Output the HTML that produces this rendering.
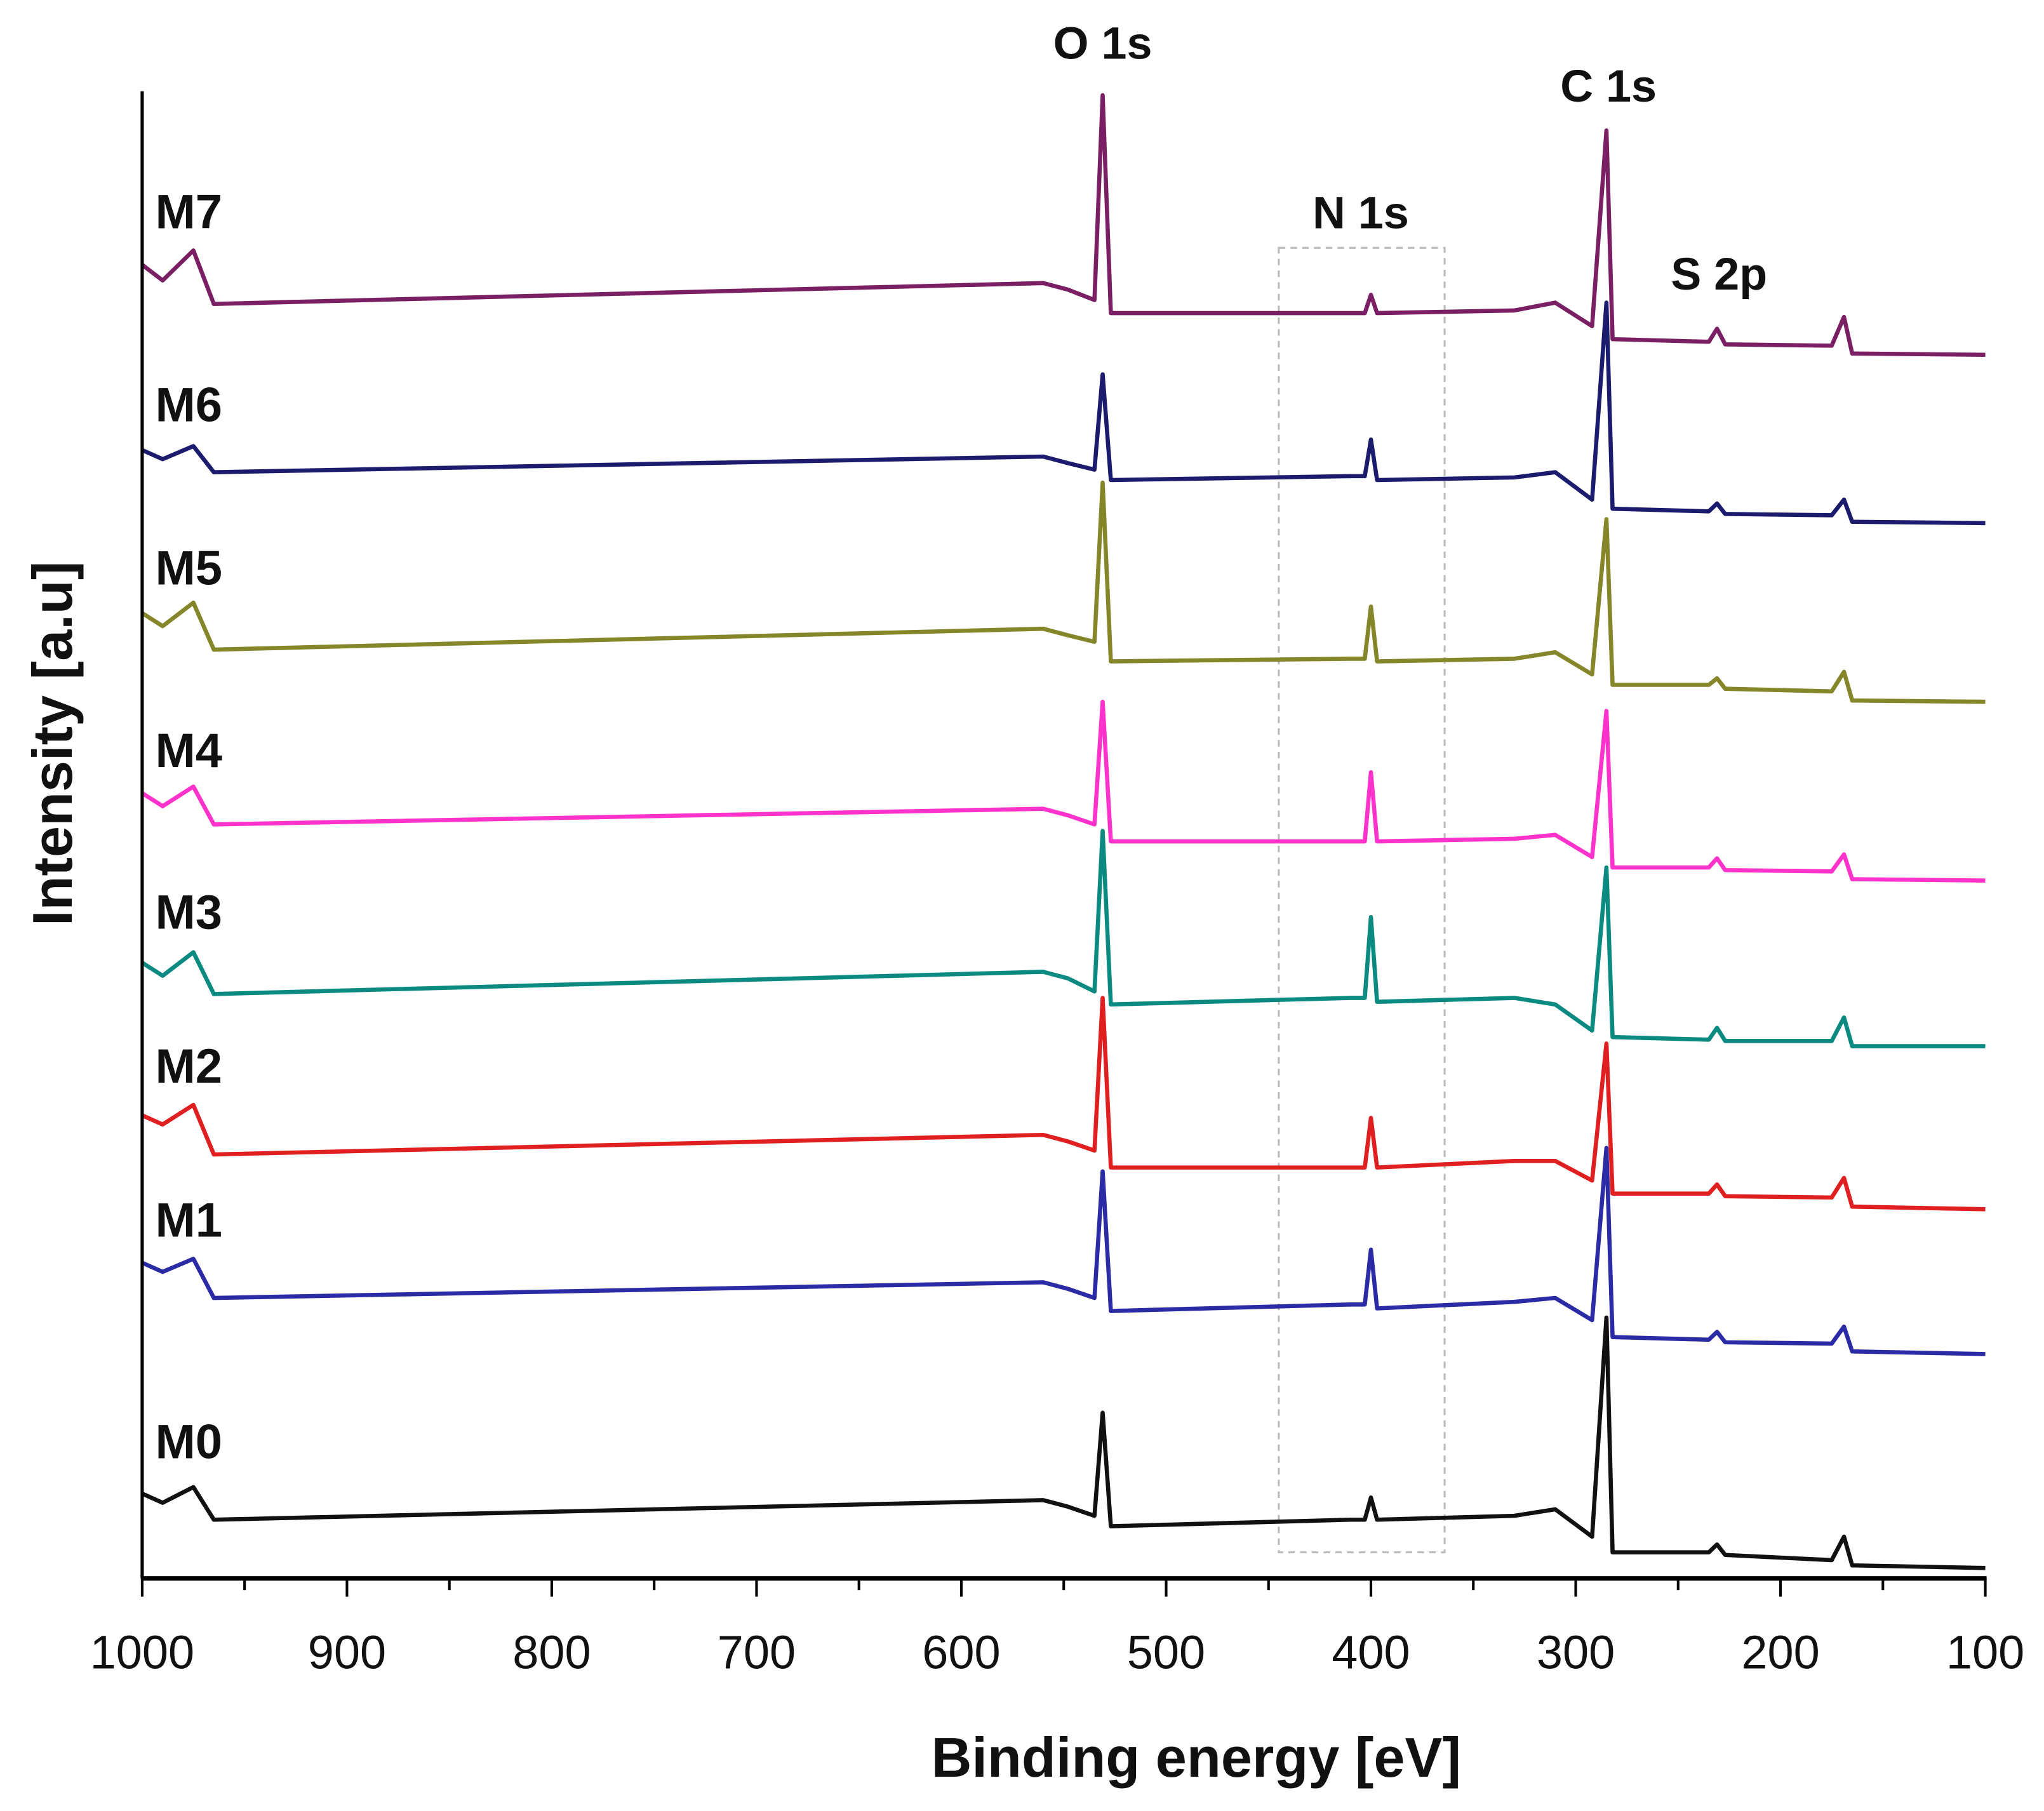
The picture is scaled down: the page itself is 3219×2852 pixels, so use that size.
<!DOCTYPE html>
<html><head><meta charset="utf-8"><style>
html,body{margin:0;padding:0;background:#fff;}
svg{display:block;}
text{font-family:"Liberation Sans",sans-serif;}
</style></head><body>
<svg id="chart" width="3219" height="2852" viewBox="0 0 1567 1388.3" preserveAspectRatio="none" xmlns="http://www.w3.org/2000/svg">
<rect x="0" y="0" width="1567" height="1389" fill="#fff"/>
<g id="plot"></g>
<g id="axes"></g>
</svg>
<script>
const energies = [1000,990,975,965,560,548,535,531,527,410,403,400,397,330,310,292,285,282,235,231,227,175,169,165,100];
const seriesNames = ['M0','M1','M2','M3','M4','M5','M6','M7'];
const seriesColors = ['#111111','#2b2ba6','#e02020','#0a8a80','#ff33cc','#85852a','#1c1c6e','#7a1f63'];
const M0 = [65,58,70,45,60,55,48,127,40,45,45,62,45,48,53,32,200,20,20,26,18,14,32,10,8];
const M1 = [242,235,245,215,227,222,215,312,205,210,210,252,207,212,215,198,330,185,183,189,181,180,193,174,172];
const M2 = [355,348,363,325,340,335,328,445,315,315,315,353,315,320,320,305,410,295,295,302,293,292,307,285,283];
const M3 = [472,462,480,448,465,460,450,573,440,445,445,507,442,445,440,420,545,415,413,422,412,412,430,408,408];
const M4 = [602,592,607,578,590,585,578,672,565,565,565,618,565,567,570,553,665,545,545,552,543,542,555,536,535];
const M5 = [740,730,748,712,728,723,718,840,703,705,705,745,703,705,710,693,812,685,685,690,682,680,695,673,672];
const M6 = [865,858,868,848,860,855,850,923,842,845,845,873,842,844,848,827,978,820,818,824,816,815,827,810,809];
const M7 = [1007,995,1018,977,993,988,980,1137,970,970,970,984,970,972,978,960,1110,950,948,958,946,945,967,939,938];
const seriesValues = [M0,M1,M2,M3,M4,M5,M6,M7];
const labelIntensity = [92,262,380,498,622,762,887,1035];
const xTicks = [1000,900,800,700,600,500,400,300,200,100];
const xMinorTicks = [950,850,750,650,550,450,350,250,150];
const peakLabels = ['O 1s','C 1s','N 1s','S 2p'];
const peakEnergies = [531,284,405,230];
const peakLabelIntensity = [1165,1132,1035,988];
const boxEnergies = [445,364];
const boxIntensity = [20,1020];

const X0=109, X1=1522, YB=1210;
function xs(e){return X0+(1000-e)*(X1-X0)/900;}
function ys(v){return YB-v;}
const NS='http://www.w3.org/2000/svg';
function mk(tag,attrs,parent){const el=document.createElementNS(NS,tag);for(const k in attrs)el.setAttribute(k,attrs[k]);parent.appendChild(el);return el;}
const plot=document.getElementById('plot');
const axes=document.getElementById('axes');

const box=mk('rect',{x:xs(boxEnergies[0]),y:ys(boxIntensity[1]),width:xs(boxEnergies[1])-xs(boxEnergies[0]),height:boxIntensity[1]-boxIntensity[0],fill:'none',stroke:'#bbb','stroke-width':1.5,'stroke-dasharray':'5,4'},plot);



seriesValues.forEach((vals,i)=>{
  let d='';
  vals.forEach((v,j)=>{d+=(j?'L':'M')+xs(energies[j]).toFixed(2)+','+ys(v).toFixed(2);});
  const p=mk('path',{d:d,fill:'none',stroke:seriesColors[i],'stroke-width':3.2,'stroke-linejoin':'round'},plot);
  
  
  const t=mk('text',{x:119,y:ys(labelIntensity[i]),'font-size':37,'font-weight':'bold',fill:'#111'},plot);
  t.textContent=seriesNames[i];
  
  
});

peakLabels.forEach((lab,i)=>{
  const t=mk('text',{x:xs(peakEnergies[i]),y:ys(peakLabelIntensity[i]),'font-size':35,'font-weight':'bold','text-anchor':'middle',fill:'#111'},plot);
  t.textContent=lab;
  
  
});

const ya=mk('line',{x1:X0,y1:70,x2:X0,y2:YB,stroke:'#000','stroke-width':2.5},axes);


const xa=mk('line',{x1:X0-1,y1:YB,x2:X1+1,y2:YB,stroke:'#000','stroke-width':3.5},axes);


xTicks.forEach(v=>{
  const l=mk('line',{x1:xs(v),y1:YB,x2:xs(v),y2:YB+14,stroke:'#000','stroke-width':2},axes);
  
  
  const t=mk('text',{x:xs(v),y:1279,'font-size':36,'text-anchor':'middle',fill:'#111'},axes);
  t.textContent=String(v);
  
  
});
xMinorTicks.forEach(v=>{
  const l=mk('line',{x1:xs(v),y1:YB,x2:xs(v),y2:YB+9,stroke:'#000','stroke-width':2},axes);
  
  
});
const xt=mk('text',{x:917,y:1362,'font-size':43,'font-weight':'bold','text-anchor':'middle',fill:'#111'},axes);
xt.textContent='Binding energy [eV]';


const yt=mk('text',{x:0,y:0,'font-size':43,'font-weight':'bold','text-anchor':'middle',fill:'#111',transform:'translate(55,570) rotate(-90)'},axes);
yt.textContent='Intensity [a.u]';


</script>
</body></html>
